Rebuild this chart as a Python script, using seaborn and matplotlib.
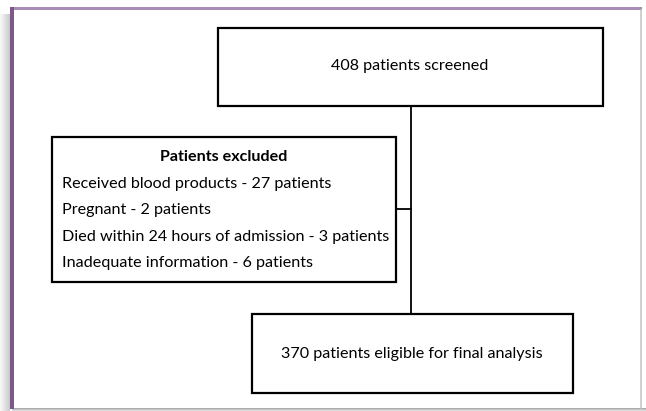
import matplotlib
matplotlib.use("Agg")
import matplotlib.pyplot as plt
import matplotlib.patches as mpatches
import numpy as np
import seaborn as sns

sns.set_theme(style="white")
plt.rcParams['font.family'] = ['Lato', 'DejaVu Sans']

# flowchart content
screened_label = "408 patients screened"
excluded_title = "Patients excluded"
excluded_reasons = ["Received blood products", "Pregnant",
                    "Died within 24 hours of admission", "Inadequate information"]
excluded_counts = [27, 2, 3, 6]
eligible_label = "370 patients eligible for final analysis"

W, H = 646, 411
fig = plt.figure(figsize=(W / 100, H / 100), dpi=100)
ax = fig.add_axes([0, 0, 1, 1])
ax.set_xlim(0, W)
ax.set_ylim(H, 0)
ax.axis("off")

# frame with shadow
for i in range(10):
    a = 0.05 + 0.04 * i
    ax.add_patch(mpatches.Rectangle((i, 14), 1, 398, color="0.5", alpha=a, lw=0))
for i in range(3):
    ax.add_patch(mpatches.Rectangle((12, 408 + i), 634, 1, color="0.45", alpha=0.6 - 0.18 * i, lw=0))
ax.add_patch(mpatches.Rectangle((13, 10), 628, 398, facecolor="white", edgecolor="none"))
ax.plot([640.5, 640.5], [10, 408], color="0.78", lw=1.2)
ax.add_patch(mpatches.Rectangle((10, 7), 632, 3.5, color="#a78db3", lw=0))
ax.add_patch(mpatches.Rectangle((10, 7), 3.5, 402, color="#7b5a8b", lw=0))


def box(x0, y0, x1, y1):
    ax.add_patch(mpatches.Rectangle((x0, y0), x1 - x0, y1 - y0, facecolor="white",
                                    edgecolor="black", lw=1.6, zorder=3))


fs = 11.6
tc = "black"
# connectors
ax.plot([411, 411], [106, 314], color="black", lw=1.3, zorder=2)
ax.plot([396, 411], [209, 209], color="black", lw=1.3, zorder=2)

box(218, 28, 603, 106)
ax.text(410, 66, screened_label, ha="center", va="center", fontsize=fs, color=tc, zorder=4)

box(52, 137, 396, 282)
ax.text(224, 157, excluded_title, ha="center", va="center", fontsize=fs,
        fontweight="bold", color=tc, zorder=4)
for k, (r, c) in enumerate(zip(excluded_reasons, excluded_counts)):
    ax.text(62, 183.5 + 26.6 * k, f"{r} - {c} patients", ha="left", va="center",
            fontsize=fs, color=tc, zorder=4)

box(252, 314, 573, 393)
ax.text(412, 354, eligible_label, ha="center", va="center", fontsize=fs, color=tc, zorder=4)

fig.savefig("out.png", dpi=100)
